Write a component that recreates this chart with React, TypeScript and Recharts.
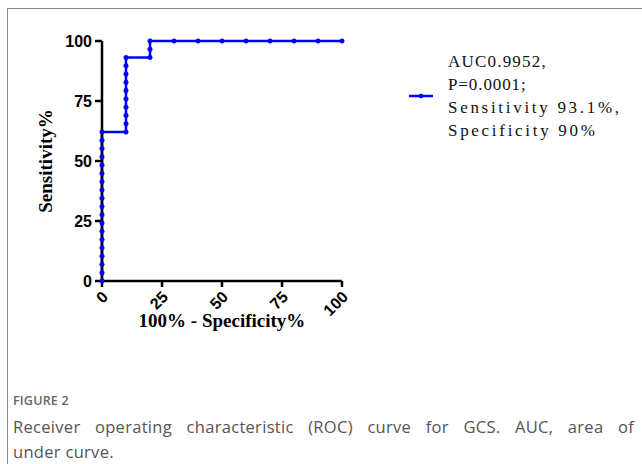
import React from "react";
import { LineChart, Line, XAxis, YAxis } from "recharts";

const fpr = [
  0, 0, 0, 0, 0, 0, 0, 0, 0, 0, 0, 0, 0, 0, 0, 0, 0, 0, 0,
  10, 10, 10, 10, 10, 10, 10, 10, 10, 10,
  20, 20, 20,
  30, 40, 50, 60, 70, 80, 90, 100,
];
const sensitivity = [
  0, 3.45, 6.9, 10.34, 13.79, 17.24, 20.69, 24.14, 27.59, 31.03, 34.48, 37.93,
  41.38, 44.83, 48.28, 51.72, 55.17, 58.62, 62.07,
  62.07, 65.52, 68.97, 72.41, 75.86, 79.31, 82.76, 86.21, 89.66, 93.1,
  93.1, 96.55, 100,
  100, 100, 100, 100, 100, 100, 100, 100,
];
const axisTicks = [0, 25, 50, 75, 100];
const legendLines = ["AUC0.9952,", "P=0.0001;", "Sensitivity 93.1%,", "Specificity 90%"];
const legendSpacing = [1.2, 0.9, 2.7, 2.7];

const data = fpr.map((x, i) => ({ fpr: x, sens: sensitivity[i] }));

const BLUE = "#0000ff";
const SANS = "'Liberation Sans', Arial, sans-serif";
const SERIF = "'Liberation Serif', 'Times New Roman', serif";
const CAPTION = "'Open Sans', 'Noto Sans', sans-serif";

function XTick(props: any) {
  const { x, y, payload } = props;
  const ex = x + 7;
  const ey = y + 9;
  return (
    <text
      x={ex}
      y={ey}
      textAnchor="end"
      transform={`rotate(-45, ${ex}, ${ey})`}
      fontFamily={SANS}
      fontWeight="bold"
      fontSize={16}
      fill="#000"
    >
      {payload.value}
    </text>
  );
}

function LegendBox() {
  return (
    <div style={{ position: "absolute", left: 405, top: 50, width: 230, height: 100 }}>
      <svg width={30} height={10} style={{ position: "absolute", left: 4, top: 41 }}>
        <line x1={0} y1={5} x2={24} y2={5} stroke={BLUE} strokeWidth={2.5} />
        <circle cx={12} cy={5} r={2.3} fill={BLUE} />
      </svg>
      <svg width={200} height={100} style={{ position: "absolute", left: 43, top: 0 }}>
        {legendLines.map((t, i) => (
          <text
            key={t}
            x={0}
            y={17 + i * 23}
            fontFamily={SERIF}
            fontSize={17}
            letterSpacing={legendSpacing[i]}
            fill="#111"
          >
            {t}
          </text>
        ))}
      </svg>
    </div>
  );
}

export default function App() {
  return (
    <div style={{ position: "absolute", left: 0, top: 0, width: 642, height: 464, background: "#fff" }}>
      <div style={{ position: "absolute", left: 7, top: 8, width: 635, height: 1, background: "#8a8a8a" }} />
      <div style={{ position: "absolute", left: 7, top: 8, width: 1, height: 456, background: "#8a8a8a" }} />

      <div style={{ position: "absolute", left: 0, top: 0 }}>
        <LineChart width={642} height={340} data={data} margin={{ top: 41, right: 300, bottom: 0, left: 0 }}>
          <XAxis
            dataKey="fpr"
            type="number"
            domain={[0, 100]}
            ticks={axisTicks}
            height={59}
            axisLine={{ stroke: "#000", strokeWidth: 2.5 }}
            tickLine={{ stroke: "#000", strokeWidth: 2.5 }}
            tickSize={6}
            tick={<XTick />}
            label={{
              content: (p: any) => {
                const vb = p.viewBox;
                return (
                  <text
                    x={vb.x + vb.width / 2}
                    y={vb.y + 46}
                    textAnchor="middle"
                    fontFamily={SERIF}
                    fontWeight="bold"
                    fontSize={19}
                    fill="#000"
                  >
                    100% - Specificity%
                  </text>
                );
              },
            }}
          />
          <YAxis
            type="number"
            domain={[0, 100]}
            ticks={axisTicks}
            width={102}
            axisLine={{ stroke: "#000", strokeWidth: 2.5 }}
            tickLine={{ stroke: "#000", strokeWidth: 2.5 }}
            tickSize={7}
            tickMargin={3}
            tick={{ fontFamily: SANS, fontWeight: "bold", fontSize: 16, fill: "#000" }}
            label={{
              content: (p: any) => {
                const vb = p.viewBox;
                const cx = 45;
                const cy = vb.y + vb.height / 2;
                return (
                  <text
                    x={cx}
                    y={cy}
                    textAnchor="middle"
                    dominantBaseline="central"
                    transform={`rotate(-90, ${cx}, ${cy})`}
                    fontFamily={SERIF}
                    fontWeight="bold"
                    fontSize={19}
                    fill="#000"
                  >
                    Sensitivity%
                  </text>
                );
              },
            }}
          />
          <Line
            type="linear"
            dataKey="sens"
            stroke={BLUE}
            strokeWidth={2.5}
            dot={{ r: 2.3, fill: BLUE, stroke: BLUE, strokeWidth: 0.5 }}
            isAnimationActive={false}
          />
        </LineChart>
      </div>

      <LegendBox />

      <div
        style={{
          position: "absolute",
          left: 13,
          top: 392,
          fontFamily: CAPTION,
          fontSize: 12.5,
          fontWeight: 600,
          color: "#666",
          letterSpacing: 0.2,
        }}
      >
        FIGURE 2
      </div>
      <div
        style={{
          position: "absolute",
          left: 13,
          top: 414,
          width: 621,
          fontFamily: CAPTION,
          fontSize: 16.5,
          letterSpacing: 0.3,
          lineHeight: "25px",
          color: "#555",
        }}
      >
        <div style={{ textAlign: "justify", textAlignLast: "justify", whiteSpace: "nowrap" }}>
          Receiver operating characteristic (ROC) curve for GCS. AUC, area of
        </div>
        <div>under curve.</div>
      </div>
    </div>
  );
}
